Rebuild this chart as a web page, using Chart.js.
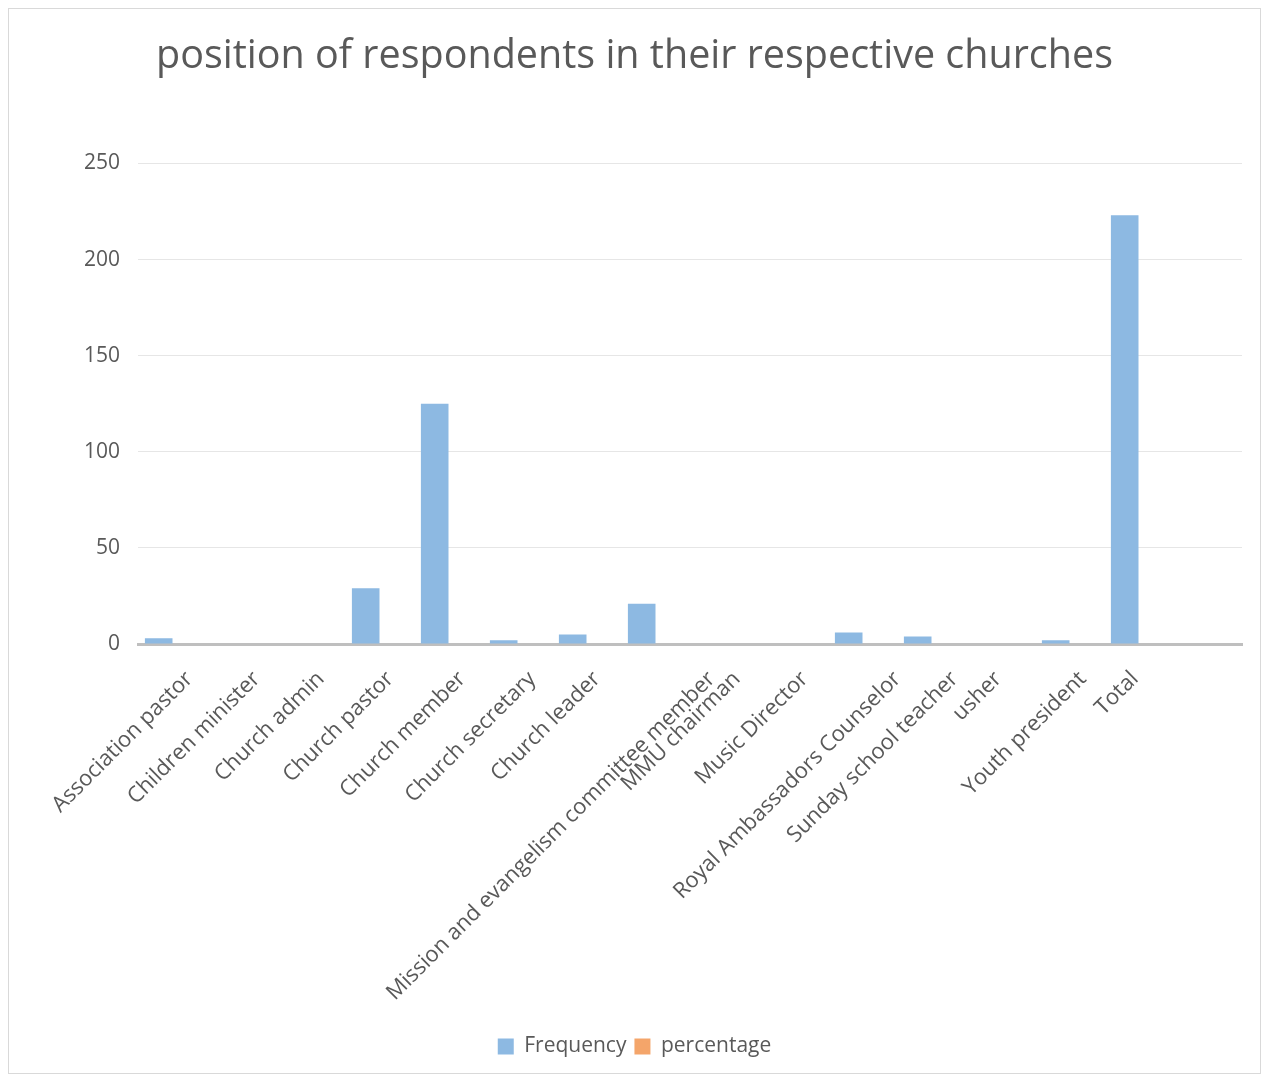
<!DOCTYPE html>
<html>
<head>
<meta charset="utf-8">
<script src="https://cdn.jsdelivr.net/npm/chart.js@4.4.1/dist/chart.umd.min.js"></script>
<style>
  html, body { margin: 0; padding: 0; background: #fff; }
  #frame {
    position: absolute; left: 8px; top: 8px;
    width: 1253px; height: 1066px;
    border: 1px solid #d9d9d9; box-sizing: border-box;
  }
  #frame canvas { display: block; }
</style>
</head>
<body>
<div id="frame"><canvas id="chart"></canvas></div>
<script>
// ── Data ─────────────────────────────────────────────────────────────────────

// last slot is an empty category (blank row in the source table)
const POSITIONS = [
  'Association pastor', 'Children minister', 'Church admin', 'Church pastor',
  'Church member', 'Church secretary', 'Church leader',
  'Mission and evangelism committee member', 'MMU chairman', 'Music Director',
  'Royal Ambassadors Counselor', 'Sunday school teacher', 'usher',
  'Youth president', 'Total', ''
];
const FREQUENCY = [3, 0, 0, 29, 125, 2, 5, 21, 0, 0, 6, 4, 0, 2, 223, 0];
// percentage column carries no height on this axis
const PERCENTAGE = [0, 0, 0, 0, 0, 0, 0, 0, 0, 0, 0, 0, 0, 0, 0, 0];
const Y_MAX = 250;
const Y_STEP = 50;

const TEXT = '#595959';
const FONT = "'Open Sans', sans-serif";

// ── Plugins ──────────────────────────────────────────────────────────────────

// Slanted category labels: longer labels sit further right of their tick,
// the way office charts anchor rotated text.
const slantLabels = {
  id: 'slantLabels',
  beforeDraw(chart) {
    const scale = chart.scales.x;
    const ctx = chart.ctx;
    scale.getLabelItems().forEach(item => {
      if (item._slanted) return;
      ctx.save();
      ctx.font = item.font.string;
      const w = ctx.measureText(String(item.label)).width;
      ctx.restore();
      item.options.translation[0] += 0.148 * w - 11;
      item._slanted = true;
    });
  },
};

// ── Chart ────────────────────────────────────────────────────────────────────

const ctx = document.getElementById('chart').getContext('2d');
new Chart(ctx, {
  type: 'bar',
  data: {
    labels: POSITIONS,
    datasets: [
      { label: 'Frequency', data: FREQUENCY, backgroundColor: '#8db9e2' },
      { label: 'percentage', data: PERCENTAGE, backgroundColor: '#f4a56a' },
    ],
  },
  plugins: [slantLabels],
  options: {
    responsive: true,
    maintainAspectRatio: false,
    animation: false,
    categoryPercentage: 0.8,
    barPercentage: 1,
    layout: { padding: { left: 18, right: 18, top: 20, bottom: 6 } },
    plugins: {
      title: {
        display: true,
        text: 'position of respondents in their respective churches',
        color: TEXT,
        font: { family: FONT, size: 39.5, weight: 'normal' },
        padding: { top: 4, bottom: 83 },
      },
      legend: {
        position: 'bottom',
        labels: {
          color: TEXT,
          font: { family: FONT, size: 21 },
          boxWidth: 16, boxHeight: 16,
          padding: 8,
        },
      },
      tooltip: { enabled: false },
    },
    scales: {
      x: {
        grid: { display: false },
        border: { color: '#bfbfbf', width: 3 },
        ticks: {
          color: TEXT,
          font: { family: FONT, size: 22 },
          minRotation: 45, maxRotation: 45,
          autoSkip: false,
          padding: 14,
        },
        afterFit(scale) { scale.height += 8; },
      },
      y: {
        min: 0, max: Y_MAX,
        grid: { color: '#e6e6e6', lineWidth: 1, drawTicks: false },
        border: { display: false },
        ticks: {
          stepSize: Y_STEP,
          color: TEXT,
          font: { family: FONT, size: 21 },
          padding: 18,
        },
        afterFit(scale) { scale.width = 111; },
      },
    },
  },
});
</script>
</body>
</html>
